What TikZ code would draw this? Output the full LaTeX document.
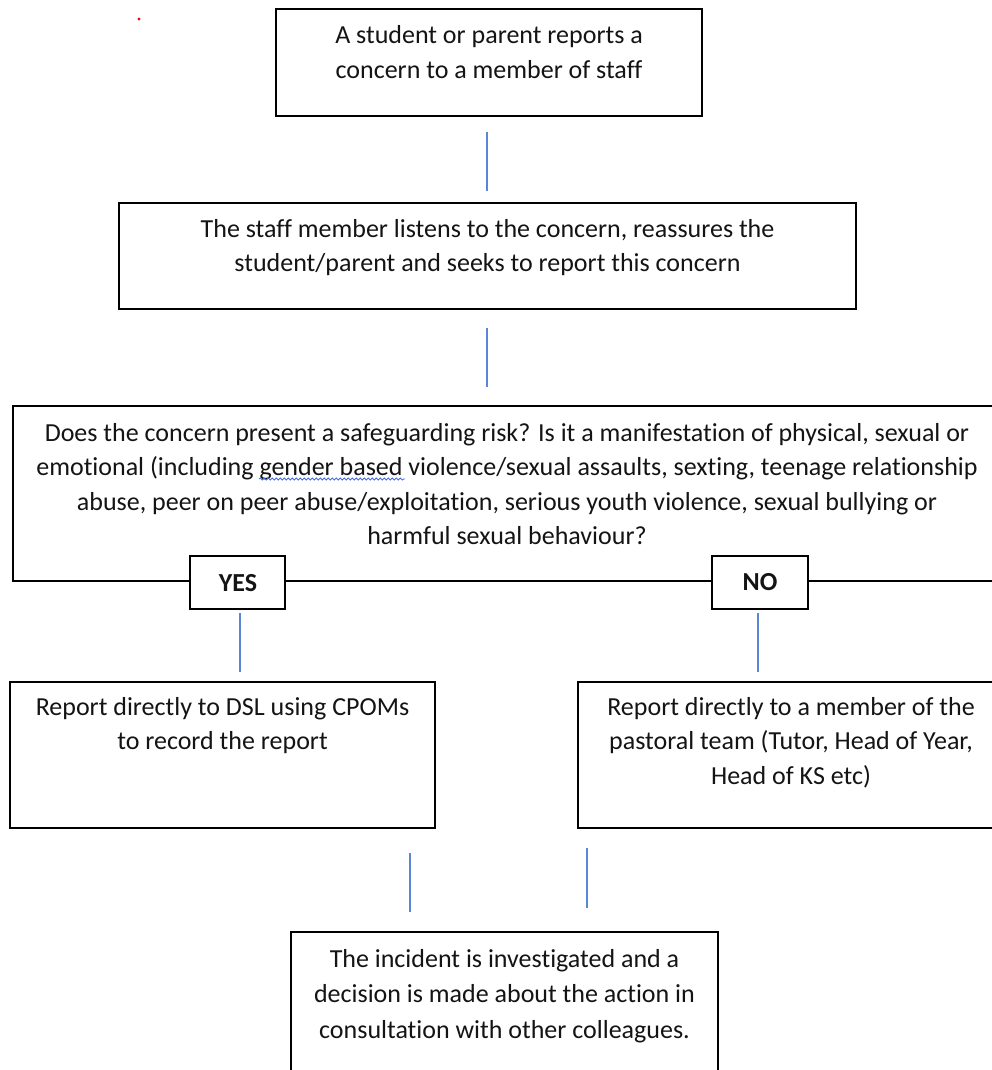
\documentclass[tikz,border=0pt]{standalone}
\usepackage{fontspec}
\setmainfont[Ligatures={NoCommon}]{Carlito}
\usetikzlibrary{decorations.pathmorphing}
\definecolor{conn}{RGB}{91,133,214}
\definecolor{wavecol}{RGB}{70,110,220}
\definecolor{txtcol}{RGB}{20,20,20}
\tikzset{
  box/.style={draw=black, line width=2pt, fill=white, rectangle, inner sep=0pt},
  txt/.style={anchor=base, align=center, inner sep=0pt, text=txtcol, font=\fontsize{26}{34.5}\selectfont},
  ans/.style={txt, font=\fontsize{26}{34.5}\selectfont\bfseries},
  link/.style={draw=conn, line width=1.3pt},
  spell/.style={draw=wavecol, line width=0.8pt, decorate, decoration={snake, amplitude=1.1pt, segment length=4pt}}
}
\begin{document}
\begin{tikzpicture}[x=1pt,y=-1pt]
\useasboundingbox (0,0) rectangle (992,1070);
\clip (0,0) rectangle (992,1070);
\fill[red] (139,19) circle (1.6);
% boxes
\node[box, minimum width=426, minimum height=107] (b1) at (489,62.5) {};
\node[box, minimum width=737, minimum height=106] (b2) at (487.5,256) {};
\node[box, minimum width=1000, minimum height=175] (dec) at (513,493.5) {};
\node[box, minimum width=95, minimum height=53] (yes) at (237.5,582.5) {};
\node[box, minimum width=96, minimum height=53] (no) at (760,582) {};
\node[box, minimum width=425, minimum height=146] (dsl) at (222.5,755) {};
\node[box, minimum width=440, minimum height=146] (past) at (798,755) {};
\node[box, minimum width=427, minimum height=160] (fin) at (504.5,1012) {};
% texts (anchor = baseline of last line)
\node[txt] (t1) at (489,78.5) {A student or parent reports a\\concern to a member of staff};
\node[txt] (t2) at (487.5,271.5) {The staff member listens to the concern, reassures the\\student/parent and seeks to report this concern};
\node[txt] (t3) at (507,544.5) {Does the concern present a safeguarding risk? Is it a manifestation of physical, sexual or\\emotional (including gender based violence/sexual assaults, sexting, teenage relationship\\abuse, peer on peer abuse/exploitation, serious youth violence, sexual bullying or\\harmful sexual behaviour?};
\coordinate (w1) at (259,479); \coordinate (w2) at (405,479);
\draw[spell] (w1) -- (w2);
\node[ans] (ty) at (238,591) {YES};
\node[ans] (tn) at (760,590) {NO};
\node[txt] (t4) at (222.5,749.5) {Report directly to DSL using CPOMs\\to record the report};
\node[txt] (t5) at (791,784) {Report directly to a member of the\\pastoral team (Tutor, Head of Year,\\Head of KS etc)};
\node[txt, font=\fontsize{26}{35.5}\selectfont] (t6) at (504.5,1038) {The incident is investigated and a\\decision is made about the action in\\consultation with other colleagues.};
% connectors
\coordinate (c1a) at (487,132); \coordinate (c1b) at (487,191);
\coordinate (c2a) at (487,328); \coordinate (c2b) at (487,387);
\coordinate (c3a) at (240,613); \coordinate (c3b) at (240,672);
\coordinate (c4a) at (758,613); \coordinate (c4b) at (758,672);
\coordinate (c5a) at (410,853); \coordinate (c5b) at (410,912);
\coordinate (c6a) at (587,848); \coordinate (c6b) at (587,908);
\draw[link] (c1a) -- (c1b);
\draw[link] (c2a) -- (c2b);
\draw[link] (c3a) -- (c3b);
\draw[link] (c4a) -- (c4b);
\draw[link] (c5a) -- (c5b);
\draw[link] (c6a) -- (c6b);
\end{tikzpicture}
\end{document}
